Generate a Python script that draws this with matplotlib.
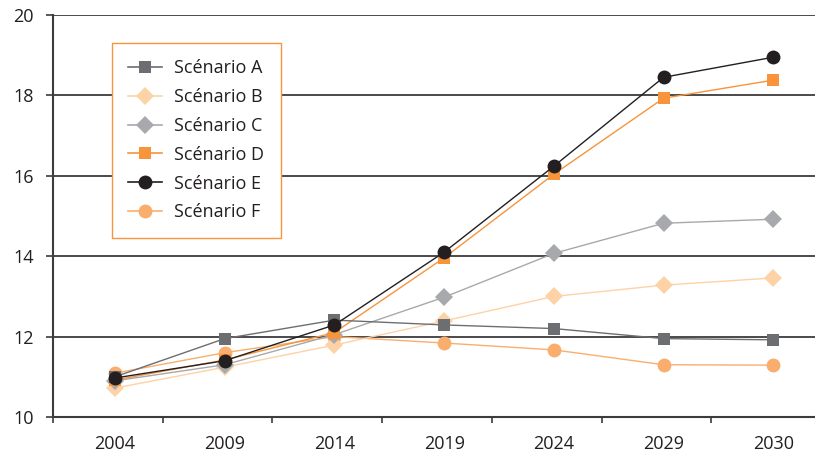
import matplotlib
matplotlib.use("Agg")
import matplotlib.pyplot as plt
from matplotlib.lines import Line2D

plt.rcParams['font.family'] = ['Open Sans', 'DejaVu Sans']

years = ["2004", "2009", "2014", "2019", "2024", "2029", "2030"]
labels = ["Scénario A", "Scénario B", "Scénario C", "Scénario D", "Scénario E", "Scénario F"]
scen_a = [11.00, 11.95, 12.41, 12.29, 12.20, 11.95, 11.92]
scen_b = [10.72, 11.24, 11.79, 12.39, 13.00, 13.28, 13.46]
scen_c = [10.90, 11.30, 12.05, 12.98, 14.07, 14.82, 14.92]
scen_d = [10.92, 11.42, 12.10, 13.96, 16.04, 17.93, 18.38]
scen_e = [10.97, 11.40, 12.29, 14.10, 16.24, 18.45, 18.95]
scen_f = [11.09, 11.60, 12.00, 11.84, 11.67, 11.30, 11.29]

series = [scen_a, scen_b, scen_c, scen_d, scen_e, scen_f]
colors = ["#6d6e71", "#fdd2a6", "#a7a9ac", "#f7943c", "#231f20", "#f9ae6e"]
markers = ["s", "D", "D", "s", "o", "o"]
msizes = [8.5, 9, 9, 8.5, 10, 10]
zorders = [6, 3, 4, 5, 7, 2]

fig = plt.figure(figsize=(8.15, 4.54), dpi=100)
ax = fig.add_axes([53 / 815, 37 / 454, 1 - 53 / 815, (417 - 15) / 454])

x = list(range(len(years)))
handles = []
for vals, c, m, ms, z, lab in zip(series, colors, markers, msizes, zorders, labels):
    ax.plot(x, vals, color=c, lw=1.0, marker=m, markersize=ms,
            markeredgewidth=0, zorder=z, clip_on=False)
    handles.append(Line2D([], [], color=c, lw=1.2, marker=m, markersize=ms,
                          markeredgewidth=0, label=lab))

ax.set_ylim(10, 20)
ax.set_xlim(-0.565, 6.38)
ax.set_yticks([10, 12, 14, 16, 18, 20])
ax.set_yticklabels(["10", "12", "14", "16", "18", "20"], fontsize=13, color="#231f20")
ax.set_xticks(x)
ax.set_xticklabels(years, fontsize=13, color="#231f20")
ax.tick_params(axis="x", which="major", length=0, pad=13)
ax.set_xticks([-0.565 + k for k in range(7)], minor=True)
ax.tick_params(axis="x", which="minor", length=4, width=1.2, color="#3c3c3e")
ax.tick_params(axis="y", length=5, width=1.2, color="#3c3c3e", pad=9)

ax.grid(axis="y", color="#3c3c3e", lw=1.3, zorder=1)
ax.set_axisbelow(True)
for s in ["top", "right"]:
    ax.spines[s].set_visible(False)
for s in ["left", "bottom"]:
    ax.spines[s].set_color("#3c3c3e")
    ax.spines[s].set_linewidth(1.5)

leg = ax.legend(handles=handles, loc="upper left",
                bbox_to_anchor=((112 - 53) / 762, (417 - 43) / 402),
                borderaxespad=0, frameon=True, fancybox=False,
                edgecolor="#f7943c", framealpha=1, fontsize=13,
                handlelength=1.85, labelspacing=0.6, borderpad=0.9,
                handletextpad=0.7)
leg.get_frame().set_linewidth(1.0)
for t in leg.get_texts():
    t.set_color("#231f20")
leg.set_zorder(10)

fig.savefig("out.png", dpi=100)
